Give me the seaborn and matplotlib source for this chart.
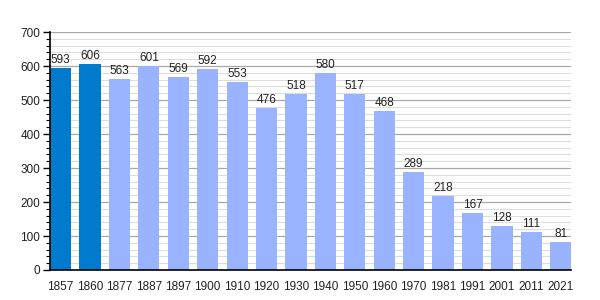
import matplotlib
matplotlib.use("Agg")
import matplotlib.pyplot as plt
from matplotlib.ticker import MultipleLocator
import seaborn as sns
import pandas as pd

years = ["1857", "1860", "1877", "1887", "1897", "1900", "1910", "1920", "1930",
         "1940", "1950", "1960", "1970", "1981", "1991", "2001", "2011", "2021"]
population = [593, 606, 563, 601, 569, 592, 553, 476, 518, 580, 517, 468, 289, 218, 167, 128, 111, 81]
highlight = [True, True] + [False] * 16

sns.set_theme(style="white")
plt.rcParams['font.family'] = ['Liberation Sans', 'DejaVu Sans']

df = pd.DataFrame({"year": years, "pop": population,
                   "kind": ["a" if h else "b" for h in highlight]})

fig = plt.figure(figsize=(6, 3), dpi=100)
ax = fig.add_axes([0.0833, 0.1, 0.869, 0.793])

palette = {"a": "#007ACC", "b": "#99B3FF"}
sns.barplot(data=df, x="year", y="pop", hue="kind", palette=palette, dodge=False,
            width=0.72, legend=False, ax=ax, zorder=2, saturation=1, linewidth=0,
            edgecolor="none")

ax.set_ylim(0, 700)
ax.set_xlim(-0.36, len(years) - 0.64)
ax.yaxis.set_major_locator(MultipleLocator(100))
ax.yaxis.set_minor_locator(MultipleLocator(20))
ax.grid(which="major", axis="y", color="#A8A8A8", linewidth=0.9, zorder=0)
ax.grid(which="minor", axis="y", color="#DDDDDD", linewidth=0.8, zorder=0)
ax.set_axisbelow(True)
ax.set_xlabel("")
ax.set_ylabel("")

for s in ["top", "right"]:
    ax.spines[s].set_visible(False)
for s in ["left", "bottom"]:
    ax.spines[s].set_color("black")
    ax.spines[s].set_linewidth(1.2)
    ax.spines[s].set_zorder(5)

ax.tick_params(axis="y", which="major", left=True, length=5, width=1, color="black",
               labelsize=8.5, pad=2, labelcolor="#222222")
ax.tick_params(axis="y", which="minor", left=True, length=3, width=0.8, color="black")
ax.tick_params(axis="x", bottom=False, labelsize=8.5, pad=2, labelcolor="#222222")

for i, v in enumerate(population):
    ax.text(i, v + 6, str(v), ha="center", va="bottom", fontsize=8.5, color="#222222")

fig.savefig("out.png", dpi=100)
